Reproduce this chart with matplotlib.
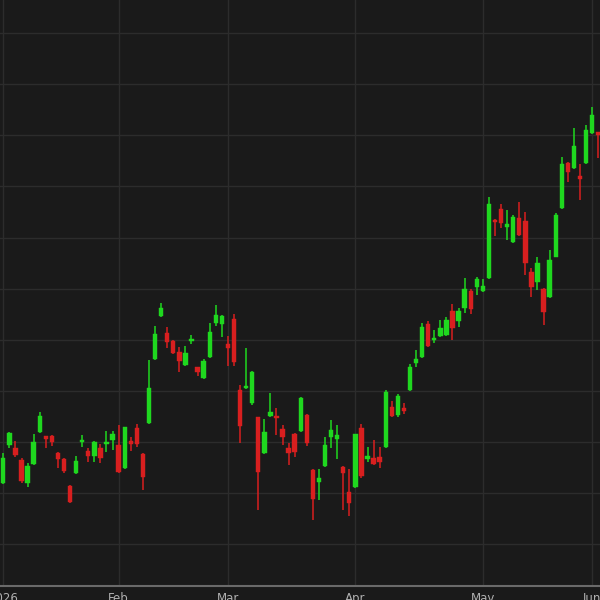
import matplotlib
matplotlib.use("Agg")
import matplotlib.pyplot as plt
import numpy as np

# OHLC values (arbitrary price units)
opens = [111.9, 119.4, 118.8, 116.4, 111.9, 115.7, 121.9, 121.1, 121.1, 117.8,
         116.6, 111.4, 113.9, 120.0, 118.2, 117.2, 118.8, 119.6, 120.4, 119.4,
         114.9, 120.2, 122.7, 117.6, 123.7, 136.2, 144.6, 141.3, 139.8, 137.6,
         135.0, 139.8, 134.6, 132.5, 136.6, 143.2, 143.1, 139.1, 144.0, 130.1,
         130.5, 127.6, 124.8, 117.8, 125.0, 125.0, 122.5, 118.8, 121.5, 122.1,
         125.2, 114.5, 112.1, 115.3, 120.9, 120.5, 115.1, 110.2, 111.2, 122.7,
         116.6, 116.8, 117.0, 119.0, 126.8, 125.2, 126.6, 130.1, 135.4, 136.6,
         143.1, 139.9, 140.7, 140.9, 145.6, 143.6, 146.2, 149.5, 150.3, 149.5,
         152.1, 163.5, 165.6, 162.0, 159.1, 163.8, 163.2, 153.2, 151.3, 149.9,
         148.3, 156.2, 165.8, 174.6, 173.6, 172.0, 174.6, 180.4, 180.6]
highs = [117.8, 121.9, 120.2, 116.8, 115.9, 121.5, 125.8, 121.1, 121.3, 118.0,
         116.8, 111.5, 117.2, 121.3, 118.8, 120.2, 119.6, 122.1, 122.1, 123.3,
         123.0, 120.9, 123.5, 117.8, 136.0, 142.7, 147.2, 142.5, 140.0, 138.6,
         138.7, 140.9, 134.7, 136.2, 143.2, 146.8, 144.8, 140.7, 145.0, 131.1,
         138.4, 133.9, 124.9, 124.5, 129.5, 126.6, 123.3, 119.8, 121.7, 128.7,
         125.4, 114.7, 114.7, 120.9, 124.3, 123.3, 115.2, 114.7, 121.6, 123.5,
         119.0, 120.4, 119.0, 130.1, 128.0, 129.4, 127.6, 135.2, 138.0, 143.2,
         143.6, 141.9, 143.8, 144.4, 147.0, 146.2, 152.1, 150.0, 152.3, 151.9,
         167.9, 163.6, 166.5, 165.4, 164.4, 166.9, 165.0, 154.0, 156.2, 150.1,
         157.5, 164.8, 175.7, 174.7, 181.4, 174.4, 182.0, 185.5, 180.7]
lows = [111.7, 118.8, 117.0, 111.9, 111.2, 115.5, 121.7, 118.8, 119.2, 114.9,
        113.9, 108.0, 113.7, 119.0, 116.0, 116.0, 115.9, 118.0, 118.4, 114.0,
        114.7, 118.2, 119.0, 110.6, 123.5, 136.0, 144.4, 138.4, 137.2, 133.7,
        134.8, 139.1, 132.9, 132.3, 136.5, 142.7, 140.5, 134.8, 134.8, 119.8,
        130.3, 127.2, 106.7, 117.6, 124.8, 121.3, 119.4, 115.5, 117.0, 121.9,
        119.2, 104.7, 108.6, 115.1, 118.8, 116.6, 106.7, 105.5, 111.0, 112.9,
        116.0, 115.5, 114.9, 118.8, 124.8, 124.9, 125.4, 129.9, 134.6, 136.4,
        138.5, 139.3, 140.5, 140.7, 139.9, 142.5, 145.2, 145.0, 148.7, 149.3,
        151.8, 160.3, 161.8, 159.5, 158.9, 160.3, 152.6, 148.3, 149.7, 142.9,
        148.1, 156.1, 165.6, 170.8, 173.4, 167.3, 174.4, 180.3, 175.5]
closes = [116.8, 121.7, 117.4, 112.3, 115.3, 120.0, 125.0, 120.5, 120.0, 116.6,
          114.3, 108.2, 116.2, 120.4, 117.2, 120.0, 116.8, 120.0, 121.5, 114.1,
          122.9, 119.6, 119.6, 113.1, 130.5, 141.1, 146.2, 139.5, 137.4, 135.8,
          137.4, 140.0, 133.7, 135.8, 141.5, 144.8, 144.6, 138.4, 135.6, 123.1,
          130.9, 133.7, 114.1, 121.9, 125.8, 124.7, 120.9, 117.8, 118.0, 128.6,
          119.8, 108.8, 112.9, 119.4, 122.3, 121.3, 113.9, 108.0, 121.5, 113.3,
          117.2, 115.7, 116.0, 129.7, 125.0, 129.0, 126.0, 134.6, 136.2, 142.5,
          138.7, 140.3, 142.3, 143.8, 142.3, 145.6, 149.9, 146.0, 151.9, 150.5,
          166.5, 163.0, 162.8, 162.6, 164.0, 160.5, 155.0, 150.3, 155.0, 145.4,
          155.6, 164.4, 174.4, 172.8, 177.9, 171.4, 181.0, 184.0, 180.0]

# first trading session of each month (candle index) and labels
month_starts = [0, 19, 37, 58, 79, 97]
month_labels = ["2026", "Feb", "Mar", "Apr", "May", "Jun"]
price_grid = list(range(100, 201, 10))

BG = "#1a1a1a"
GRID = "#2c2c2c"
UP = "#1fd81f"
DOWN = "#d81f1f"

fig = plt.figure(figsize=(6, 6), dpi=100, facecolor=BG)
ax = fig.add_axes([0, 14 / 600, 1, 586 / 600], facecolor=BG)

o = np.array(opens); h = np.array(highs); l = np.array(lows); c = np.array(closes)
x = np.arange(len(o))
up = c >= o
colors = np.where(up, UP, DOWN)

ax.vlines(x, l, h, colors=colors, linewidth=1.1, zorder=3)
body_bottom = np.minimum(o, c)
body_h = np.maximum(np.abs(c - o), 0.35)
ax.bar(x, body_h, bottom=body_bottom, width=0.72, color=colors,
       edgecolor=colors, linewidth=0.3, zorder=4)

ax.set_xlim(-0.544, 98.3)
ax.set_ylim(91.8, 206.5)

ax.set_yticks(price_grid)
ax.set_xticks(month_starts)
ax.set_xticklabels(month_labels)
ax.grid(True, color=GRID, linewidth=1.0, zorder=0)
ax.set_axisbelow(True)

ax.tick_params(axis="y", left=False, labelleft=False)
ax.tick_params(axis="x", length=0, pad=4, colors="#b0b0b0", labelsize=8.5)
for s in ["top", "left", "right"]:
    ax.spines[s].set_visible(False)
ax.spines["bottom"].set_color("#6a6a6a")
ax.spines["bottom"].set_linewidth(1.5)

fig.savefig("out.png", dpi=100, facecolor=BG)
